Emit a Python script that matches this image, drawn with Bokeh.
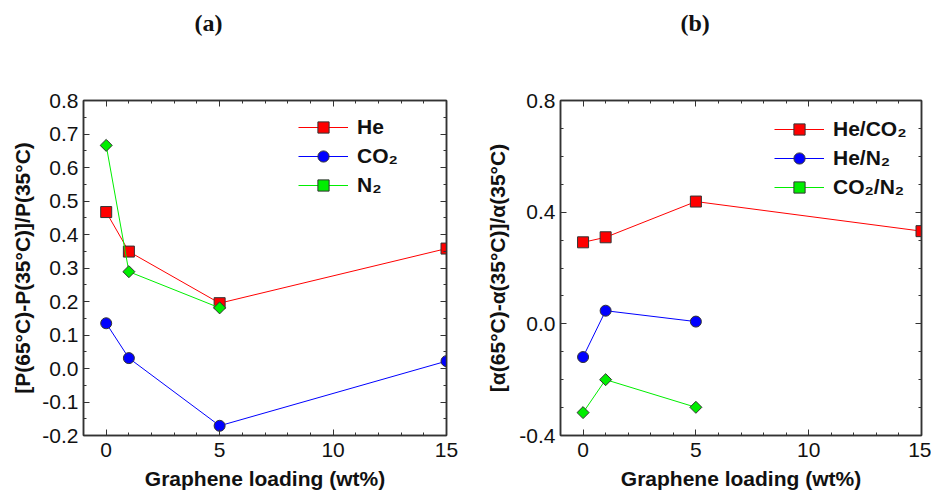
import math
from bokeh.plotting import figure
from bokeh.layouts import row
from bokeh.models import (SingleIntervalTicker, LinearAxis, NumeralTickFormatter,
                          CustomJSTickFormatter, Legend, LegendItem, Range1d)
from bokeh.embed import file_html
from bokeh.resources import INLINE

# ---------------- data ----------------
loading = [0, 1, 5, 15]
loading_b = [0, 1, 5]

he_a = [0.467, 0.349, 0.195, 0.358]
co2_a = [0.135, 0.031, -0.171, 0.022]
n2_a = [0.666, 0.289, 0.181]

heco2_b = [0.292, 0.310, 0.438, 0.332]
hen2_b = [-0.119, 0.047, 0.008]
co2n2_b = [-0.318, -0.200, -0.299]

labels_a = ["He", "CO\u2082", "N\u2082"]
labels_b = ["He/CO\u2082", "He/N\u2082", "CO\u2082/N\u2082"]

RED, BLUE, GREEN = "#ff0000", "#0000ff", "#00ee00"
EDGE = "#333333"
FONT = "Liberation Sans"


def style_axes(p, yticker_interval, yminor, ylabel, ylabel_standoff):
    xt = SingleIntervalTicker(interval=5, num_minor_ticks=5)
    yt = SingleIntervalTicker(interval=yticker_interval, num_minor_ticks=yminor)
    bottom = LinearAxis(ticker=xt, axis_label="Graphene loading (wt%)")
    left = LinearAxis(ticker=yt, axis_label=ylabel,
                      formatter=NumeralTickFormatter(format="0.0"))
    blank = CustomJSTickFormatter(code="return ''")
    top = LinearAxis(ticker=xt, formatter=blank)
    right = LinearAxis(ticker=yt, formatter=blank)
    p.add_layout(bottom, "below")
    p.add_layout(left, "left")
    p.add_layout(top, "above")
    p.add_layout(right, "right")
    for ax in [bottom, left, top, right]:
        ax.axis_line_color = EDGE
        ax.axis_line_width = 1.5
        ax.major_tick_line_color = EDGE
        ax.minor_tick_line_color = EDGE
        ax.major_tick_in = 6
        ax.major_tick_out = 0
        ax.minor_tick_in = 3
        ax.minor_tick_out = 0
        ax.major_label_text_font = FONT
        ax.major_label_text_font_size = "21px"
        ax.major_label_text_color = "#111111"
        ax.axis_label_text_font = FONT
        ax.axis_label_text_font_size = "21px"
        ax.axis_label_text_font_style = "bold"
        ax.axis_label_text_color = "#111111"
    for ax in [top, right]:
        ax.major_label_standoff = 0
    bottom.major_label_standoff = 7
    bottom.axis_label_standoff = 7
    left.major_label_standoff = 5
    left.axis_label_standoff = ylabel_standoff
    p.outline_line_color = EDGE
    p.outline_line_width = 1.5
    p.background_fill_color = "white"
    p.border_fill_color = "white"


def add_series(p, xs, ys, color, marker, size, angle=0.0):
    r1 = p.line(xs, ys, line_color=color, line_width=1)
    r2 = p.scatter(xs, ys, marker=marker, size=size, angle=angle,
                   fill_color=color, line_color=EDGE, line_width=1)
    return [r1, r2]


def make_fig(width, ymin, ymax, left_b, right_b, bottom_b, title, offset):
    p = figure(width=width, height=496, output_backend="svg", toolbar_location=None,
               x_range=Range1d(-1, 15), y_range=Range1d(ymin, ymax),
               x_axis_location=None, y_axis_location=None,
               min_border_left=left_b, min_border_right=right_b,
               min_border_top=100, min_border_bottom=bottom_b)
    p.xgrid.visible = False
    p.ygrid.visible = False
    p.title.text = title + "\n \n "
    p.title.align = "left"
    p.title.offset = offset
    p.title.text_font = "Liberation Serif"
    p.title.text_font_style = "bold"
    p.title.text_font_size = "24px"
    p.title.text_line_height = 1.15
    p.title.text_color = "#111111"
    return p


# ---------------- panel (a) ----------------
p1 = make_fig(470, -0.2, 0.8, 83, 24, 59, "(a)", 111)
style_axes(p1, 0.1, 2, "[P(65\u00b0C)-P(35\u00b0C)]/P(35\u00b0C)", 5)

ra = [
    add_series(p1, loading, he_a, RED, "square", 11),
    add_series(p1, loading, co2_a, BLUE, "circle", 11),
    add_series(p1, loading[:3], n2_a, GREEN, "square", 8.5, math.pi / 4),
]

# ---------------- panel (b) ----------------
p2 = make_fig(461, -0.4, 0.8, 90, 10, 61, "(b)", 120)
style_axes(p2, 0.4, 4, "[\u03b1(65\u00b0C)-\u03b1(35\u00b0C)]/\u03b1(35\u00b0C)", 7)

rb = [
    add_series(p2, loading, heco2_b, RED, "square", 11),
    add_series(p2, loading_b, hen2_b, BLUE, "circle", 11),
    add_series(p2, loading_b, co2n2_b, GREEN, "square", 8.5, math.pi / 4),
]


def add_legend(p, renders, labels, loc):
    items = [LegendItem(label=l, renderers=r) for l, r in zip(labels, renders)]
    lg = Legend(items=items, location=loc, glyph_width=50, glyph_height=28,
                label_height=28, spacing=1, padding=0, margin=0,
                label_standoff=9, background_fill_alpha=0, border_line_color=None,
                label_text_font=FONT, label_text_font_size="21px",
                label_text_font_style="bold", label_text_color="#111111")
    p.add_layout(lg, "center")


add_legend(p1, ra, labels_a, (215, 236))
add_legend(p2, rb, labels_b, (214, 234))

layout = row(p1, p2)
open("out.html", "w").write(file_html(layout, INLINE))
